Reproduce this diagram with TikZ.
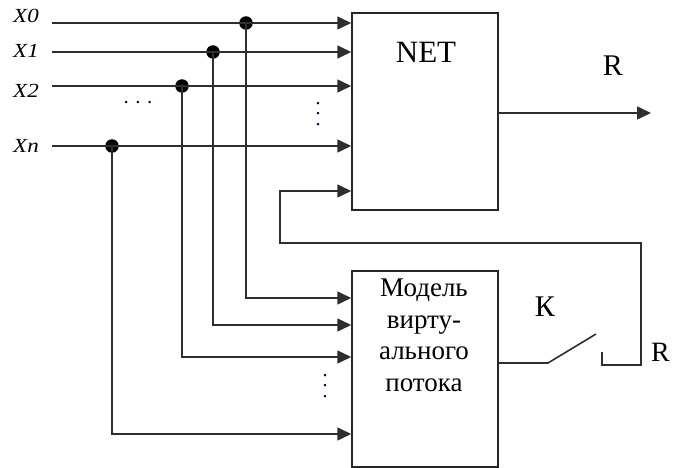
\documentclass[tikz,border=0pt]{standalone}
\usepackage{fontspec}
\setmainfont{Liberation Serif}
\usetikzlibrary{arrows.meta}
\begin{document}
\begin{tikzpicture}[x=1pt,y=-1pt,
  wire/.style={line width=1.6pt, draw=black!82},
  arr/.style={wire, -{Triangle[length=14pt,width=13pt]}},
  blk/.style={draw=black!85, line width=1.5pt, rectangle, inner sep=0pt},
  jdot/.style={circle, fill=black, inner sep=0pt, minimum size=13.5pt},
  lbl/.style={font=\fontsize{20}{20}\selectfont\itshape, inner sep=0pt, anchor=west, xscale=1.15},
  dotsl/.style={font=\fontsize{15}{15}\selectfont\bfseries, text=black!70!blue, inner sep=0pt},
]
\useasboundingbox (0,0) rectangle (673,468);
% blocks
\node[blk, minimum width=146pt, minimum height=197pt] (net) at (425,111.5) {};
\node[font=\fontsize{31}{31}\selectfont, inner sep=0pt] (nett) at (426,52) {NET};
\node[blk, minimum width=146pt, minimum height=196pt] (mod) at (425,369) {};
\node[align=center, font=\fontsize{27}{31.5}\selectfont, anchor=north, inner sep=0pt] (modt) at (424,279) {Модель\\вирту-\\ального\\потока};
% input labels
\node[lbl] (l0) at (13,16) {X0};
\node[lbl] (l1) at (13,51) {X1};
\node[lbl] (l2) at (13,91) {X2};
\node[lbl] (ln) at (13,146) {Xn};
% input starts
\coordinate (s0) at (52,23);
\coordinate (s1) at (52,52);
\coordinate (s2) at (52,86);
\coordinate (sn) at (52,146);
% junctions
\node[jdot] (j0) at (246,23) {};
\node[jdot] (j1) at (213,52) {};
\node[jdot] (j2) at (182,86) {};
\node[jdot] (jn) at (112,146) {};
% bends to model
\coordinate (m0) at (246,298);
\coordinate (m1) at (213,325);
\coordinate (m2) at (182,357);
\coordinate (mn) at (112,434);
% inputs to NET
\draw[arr] (s0) -- (s0 -| net.west);
\draw[arr] (s1) -- (s1 -| net.west);
\draw[arr] (s2) -- (s2 -| net.west);
\draw[arr] (sn) -- (sn -| net.west);
% inputs to model
\draw[arr] (j0.center) -- (m0) -- (m0 -| mod.west);
\draw[arr] (j1.center) -- (m1) -- (m1 -| mod.west);
\draw[arr] (j2.center) -- (m2) -- (m2 -| mod.west);
\draw[arr] (jn.center) -- (mn) -- (mn -| mod.west);
% dots
\node[dotsl] (d1) at (138,102) {.\hspace{8pt}.\hspace{8pt}.};
\node[dotsl, rotate=90] (d2) at (318,114) {.\hspace{7pt}.\hspace{7pt}.};
\node[dotsl, rotate=90] (d3) at (325,386) {.\hspace{7pt}.\hspace{7pt}.};
% output
\coordinate (rout) at (651,113);
\draw[arr] (rout -| net.east) -- (rout);
\node[font=\fontsize{30}{30}\selectfont, inner sep=0pt] (rl) at (613,66) {R};
% switch
\coordinate (sw1) at (548,363);
\coordinate (sw2) at (596,334);
\draw[wire] (sw1 -| mod.east) -- (sw1) -- (sw2);
\node[font=\fontsize{30}{30}\selectfont, inner sep=0pt] (kl) at (545,307) {К};
% feedback
\coordinate (sw3) at (602,352);
\coordinate (fb1) at (602,365);
\coordinate (fb2) at (641,365);
\coordinate (fb3) at (641,243);
\coordinate (fb4) at (280,243);
\coordinate (fb5) at (280,191);
\draw[arr] (sw3) -- (fb1) -- (fb2) -- (fb3) -- (fb4) -- (fb5) -- (fb5 -| net.west);
\node[font=\fontsize{28}{28}\selectfont, anchor=west, inner sep=0pt] (rl2) at (651,352) {R};
\end{tikzpicture}
\end{document}
